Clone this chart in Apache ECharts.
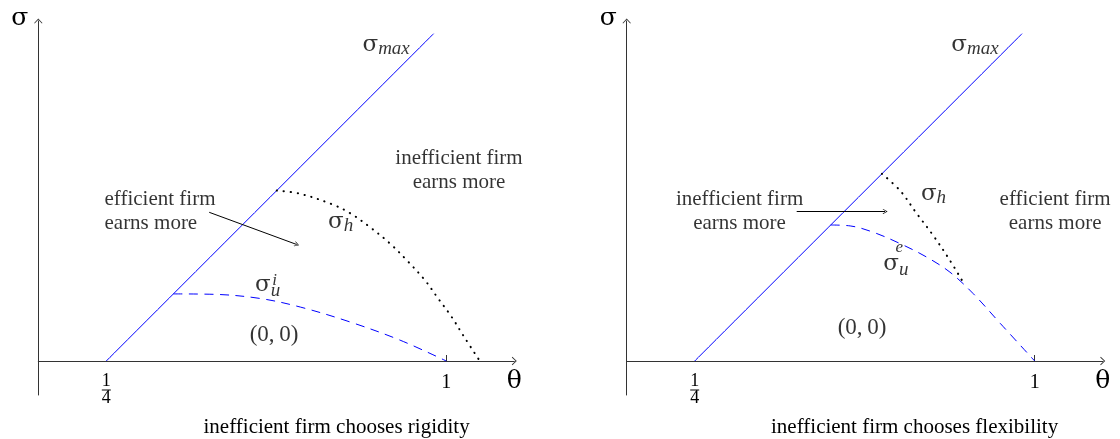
<!DOCTYPE html>
<html><head><meta charset="utf-8">
<script src="https://cdn.jsdelivr.net/npm/echarts@6/dist/echarts.min.js"></script>
<style>html,body{margin:0;padding:0;background:#fff}#c{width:1120px;height:439px}</style>
</head><body><div id="c"></div>
<script>
// ---- data (theta, sigma) ----
const tickLabelValues = [0.25, 1];
const tickMarkValues = [1];
const sigmaMaxLine = [[0.25, 0], [0.972, 0.722]];
const sigmaHLeft = [[0.626,0.376],[0.677,0.369],[0.750,0.345],[0.788,0.326],[0.832,0.295],[0.876,0.259],[0.913,0.222],[0.953,0.178],[0.982,0.138],[1.012,0.097],[1.037,0.057],[1.074,0]];
const sigmaULeft = [[0.398,0.148],[0.490,0.147],[0.589,0.138],[0.678,0.119],[0.788,0.086],[0.898,0.046],[1,0]];
const sigmaHRight = [[0.663,0.413],[0.703,0.376],[0.740,0.325],[0.776,0.277],[0.813,0.222],[0.846,0.167]];
const sigmaURight = [[0.550,0.300],[0.593,0.298],[0.644,0.284],[0.703,0.259],[0.762,0.229],[0.813,0.196],[0.864,0.149],[0.924,0.083],[1,0]];
const arrowLeft = [[0.477,0.328],[0.670,0.257]];
const arrowRight = [[0.475,0.330],[0.670,0.330]];
// notes: [theta, sigma, kind, align]
const leftNotes = [
  [0.815, 0.697, 'smax', 'left'],
  [1.028, 0.420, 'ineffMore', 'center'],
  [0.246, 0.330, 'effMore', 'left'],
  [0.739, 0.307, 'sh', 'left'],
  [0.578, 0.168, 'su', 'left'],
  [0.616, 0.177, 'supI', 'left'],
  [0.620, 0.057, 'zero', 'center']
];
const rightNotes = [
  [0.816, 0.697, 'smax', 'left'],
  [0.349, 0.330, 'ineffMore', 'center'],
  [1.045, 0.330, 'effMore', 'center'],
  [0.749, 0.3685, 'sh', 'left'],
  [0.666, 0.214, 'su', 'left'],
  [0.693, 0.250, 'supE', 'left'],
  [0.619, 0.072, 'zero', 'center']
];
const captions = ['inefficient firm chooses rigidity', 'inefficient firm chooses flexibility'];

// ---- styling ----
const F = "'Liberation Serif', 'Times New Roman', serif";
const G = "'DejaVu Serif', serif";
const AX = '#333';
const BLUE = '#0000ff';
const arrowPath = 'path://M5,0 L10,5.3 L9.3,6 L5,1.5 L0.7,6 L0,5.3 Z';
const NOTE_TEXT = {
  smax: '{s|σ}{sm|max}',
  sh: '{s|σ}{sh|h}',
  su: '{s|σ}{su|u}',
  supI: '{sp|i}',
  supE: '{sp|e}',
  zero: '{z|(0,\u20090)}',
  ineffMore: 'inefficient firm\nearns more',
  effMore: 'efficient firm\nearns more'
};
const SUB = {fontFamily: F, fontSize: 19, fontStyle: 'italic', color: '#000'};
const RICH = {
  s: {fontFamily: G, fontSize: 23, color: '#000', lineHeight: 24},
  sm: Object.assign({padding: [7, 0, 0, 0]}, SUB),
  sh: Object.assign({padding: [8, 0, 0, 0]}, SUB),
  su: Object.assign({padding: [13, 0, 0, 0]}, SUB),
  sp: {fontFamily: F, fontSize: 17, fontStyle: 'italic', color: '#000'},
  z: {fontFamily: F, fontSize: 23, color: '#000'}
};
const TICK_RICH = {
  o: {fontFamily: F, fontSize: 20, color: '#000', lineHeight: 20},
  n: {fontFamily: F, fontSize: 18, color: '#000', lineHeight: 16},
  d: {fontFamily: F, fontSize: 18, color: '#000', lineHeight: 14},
  b: {width: 9, height: 1, lineHeight: 2, fontSize: 1, backgroundColor: '#000'}
};

const gridLefts = [38.3, 626.7];
function makeGrid(left) { return {left: left, top: 21, width: 476, height: 374}; }
function makeX(i) {
  return {
    gridIndex: i, type: 'value', min: 0.1, max: 1.15,
    axisLine: {onZero: true, lineStyle: {color: AX, width: 1}, symbol: ['none', arrowPath], symbolSize: [9, 5]},
    axisTick: {show: true, inside: true, length: 6, customValues: tickMarkValues, lineStyle: {color: AX, width: 1}},
    axisLabel: {show: true, customValues: tickLabelValues, margin: -22, color: '#000',
      formatter: function (v) { return v === 0.25 ? '{n|1}\n{b| }\n{d|4}' : '{o|1}'; }, rich: TICK_RICH},
    splitLine: {show: false},
    name: 'θ', nameLocation: 'end', nameGap: 0,
    nameTextStyle: {fontFamily: G, fontSize: 25, color: '#000', align: 'center', verticalAlign: 'top', padding: [8, 0, 0, 0]}
  };
}
function makeY(i) {
  return {
    gridIndex: i, type: 'value', min: -0.075, max: 0.75,
    axisLine: {show: true, onZero: false, lineStyle: {color: AX, width: 1}, symbol: ['none', arrowPath], symbolSize: [9, 5]},
    axisTick: {show: false}, axisLabel: {show: false}, splitLine: {show: false},
    name: 'σ', nameLocation: 'end', nameGap: 3,
    nameTextStyle: {fontFamily: G, fontSize: 25, color: '#000', align: 'right', verticalAlign: 'middle', padding: [0, 10, 0, 0]}
  };
}
function lineS(i, data, style) {
  return {type: 'line', xAxisIndex: i, yAxisIndex: i, data: data, symbol: 'none', smooth: 0.35,
    silent: true, lineStyle: style, z: 3};
}
function arrowS(i, coords) {
  return {type: 'lines', coordinateSystem: 'cartesian2d', xAxisIndex: i, yAxisIndex: i, silent: true,
    symbol: ['none', arrowPath], symbolSize: [9, 5],
    lineStyle: {color: '#000', width: 1, opacity: 1}, data: [{coords: coords}], z: 4};
}
function noteS(i, notes) {
  return {type: 'scatter', xAxisIndex: i, yAxisIndex: i, symbolSize: 0.1, silent: true, z: 5,
    itemStyle: {color: 'rgba(0,0,0,0)'},
    data: notes.map(function (n) {
      return {value: [n[0], n[1]], label: {show: true, position: 'inside', align: n[3], verticalAlign: 'middle',
        formatter: NOTE_TEXT[n[2]], rich: RICH, color: '#000', fontFamily: F, fontSize: 21, lineHeight: 24,
        textBorderWidth: 0}};
    })};
}
const dotted = {color: '#000', width: 2, type: [0.3, 6.7], cap: 'round'};
const dashed = {color: BLUE, width: 1, type: [9, 6.5]};
const solid = {color: BLUE, width: 1};

const option = {
  animation: false,
  backgroundColor: '#fff',
  grid: gridLefts.map(makeGrid),
  xAxis: [makeX(0), makeX(1)],
  yAxis: [makeY(0), makeY(1)],
  series: [
    lineS(0, sigmaMaxLine, solid), lineS(0, sigmaHLeft, dotted), lineS(0, sigmaULeft, dashed),
    arrowS(0, arrowLeft), noteS(0, leftNotes),
    lineS(1, sigmaMaxLine, solid), lineS(1, sigmaHRight, dotted), lineS(1, sigmaURight, dashed),
    arrowS(1, arrowRight), noteS(1, rightNotes)
  ],
  graphic: [
    {type: 'text', x: 336.6, y: 427, silent: true, style: {text: captions[0], font: '21px ' + F, fill: '#000', align: 'center', verticalAlign: 'middle'}},
    {type: 'text', x: 914.6, y: 427, silent: true, style: {text: captions[1], font: '21px ' + F, fill: '#000', align: 'center', verticalAlign: 'middle'}}
  ]
};
const chart = echarts.init(document.getElementById('c'));
chart.setOption(option);
</script></body></html>
